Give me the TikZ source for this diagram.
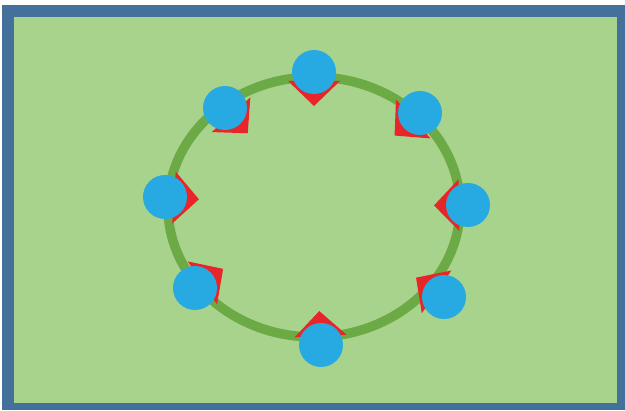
\documentclass[tikz,border=0pt]{standalone}
\usepackage{tikz}
\usetikzlibrary{calc, backgrounds}
\usepackage{xcolor}

\definecolor{frameblue}{HTML}{44709C}
\definecolor{fieldgreen}{HTML}{A8D38C}
\definecolor{ringgreen}{HTML}{6CAA46}
\definecolor{dotblue}{HTML}{27AAE2}
\definecolor{pinred}{HTML}{E8262A}

% red pointer behind a marker, aimed at the ring centre
\newcommand{\drawpointer}[1]{%
  \fill [pinred] ($(#1)!0.68cm!(ctr)$) -- ($(#1)!0.18cm!(ctr)!0.52cm!90:(ctr)$) -- ($(#1)!0.18cm!(ctr)!0.52cm!-90:(ctr)$) -- cycle;}

\begin{document}
\begin{tikzpicture}[
    x=0.02cm, y=0.02cm,
    marker/.style = {circle, fill=dotblue, inner sep=0pt, minimum size=0.88cm},
    ring/.style = {draw=ringgreen, line width=0.19cm}
]
\useasboundingbox (0,0) rectangle (625,410);

% Ring centre
\coordinate (ctr) at (314,203);

% Markers
\node (m_top) [marker] at (314,338) {};
\node (m_topleft) [marker] at (225,302) {};
\node (m_topright) [marker] at (420,297) {};
\node (m_left) [marker] at (165,213) {};
\node (m_right) [marker] at (468,205) {};
\node (m_botleft) [marker] at (195,122) {};
\node (m_botright) [marker] at (444,113) {};
\node (m_bottom) [marker] at (321,65) {};

\begin{pgfonlayer}{background}
% Frame and field
\fill [frameblue] (2,0) rectangle (625,405);
\fill [fieldgreen] (14,7) rectangle (617,393);

% Ring
\draw [ring] (ctr) ellipse [x radius=146, y radius=130];

% Pointers
\drawpointer{m_top}
\drawpointer{m_topleft}
\drawpointer{m_topright}
\drawpointer{m_left}
\drawpointer{m_right}
\drawpointer{m_botleft}
\drawpointer{m_botright}
\drawpointer{m_bottom}
\end{pgfonlayer}

\end{tikzpicture}
\end{document}
